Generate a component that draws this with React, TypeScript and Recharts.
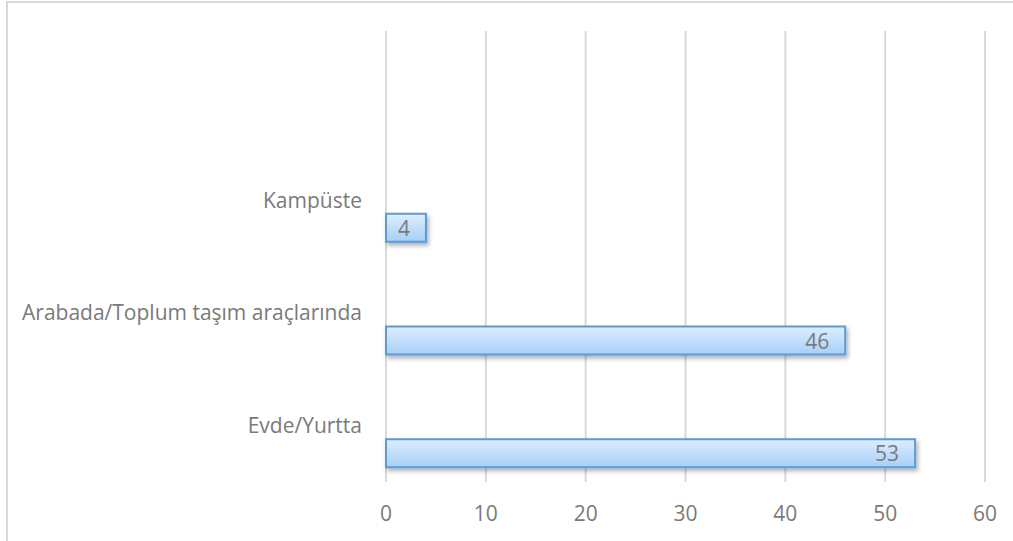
import { Bar, BarChart, CartesianGrid, LabelList, XAxis, YAxis } from "recharts";

// categories top to bottom; the first slot is empty in the source chart
const CATEGORIES = ["", "Kampüste", "Arabada/Toplum taşım araçlarında", "Evde/Yurtta "];
const VALUES: (number | null)[] = [null, 4, 46, 53];
const X_TICKS = [0, 10, 20, 30, 40, 50, 60];

const FONT = "'Open Sans', sans-serif";
const FONT_SIZE = 21;
const TEXT_COLOUR = "#7a7a7a";
const GRID_COLOUR = "#d9d9d9";

const rows = CATEGORIES.map((name, i) => ({ name, blank: null, value: VALUES[i] }));

interface ShapeProps {
  x?: number;
  y?: number;
  width?: number;
  height?: number;
}

function ShadedBar({ x = 0, y = 0, width = 0, height = 0 }: ShapeProps) {
  if (!width || !height) return null;
  return (
    <rect
      x={x}
      y={y}
      width={width}
      height={height}
      fill="url(#barFill)"
      stroke="#5b9bd5"
      strokeWidth={2}
      filter="url(#barShadow)"
    />
  );
}

interface LabelProps {
  x?: number;
  y?: number;
  width?: number;
  height?: number;
  value?: number | null;
}

function InsideLabel({ x = 0, y = 0, width = 0, height = 0, value }: LabelProps) {
  if (value == null) return null;
  return (
    <text
      x={Number(x) + Number(width) - 16}
      y={Number(y) + Number(height) / 2}
      textAnchor="end"
      dominantBaseline="central"
      fontFamily={FONT}
      fontSize={FONT_SIZE}
      fill={TEXT_COLOUR}
    >
      {value}
    </text>
  );
}

export default function App() {
  return (
    <div
      style={{
        position: "fixed",
        left: 0,
        top: 0,
        width: 1013,
        height: 541,
        overflow: "hidden",
        background: "#fff",
      }}
    >
      <svg width={0} height={0} style={{ position: "absolute" }}>
        <defs>
          <linearGradient id="barFill" x1="0" y1="0" x2="0" y2="1">
            <stop offset="0%" stopColor="#ddeeff" />
            <stop offset="100%" stopColor="#a7cff8" />
          </linearGradient>
          <filter id="barShadow" x="-10%" y="-30%" width="130%" height="180%">
            <feDropShadow dx="2" dy="3" stdDeviation="2" floodColor="#000" floodOpacity="0.3" />
          </filter>
        </defs>
      </svg>
      <div style={{ position: "absolute", left: 0, top: 0 }}>
        <BarChart
          width={1013}
          height={541}
          data={rows}
          layout="vertical"
          margin={{ top: 31, right: 28, bottom: 0, left: 0 }}
          barSize={28}
          barGap={28}
        >
          <CartesianGrid horizontal={false} stroke={GRID_COLOUR} strokeWidth={2} />
          <XAxis
            type="number"
            domain={[0, 60]}
            ticks={X_TICKS}
            interval={0}
            height={59}
            axisLine={false}
            tickLine={false}
            tickSize={0}
            tickMargin={24}
            tick={{ fontFamily: FONT, fontSize: FONT_SIZE, fill: TEXT_COLOUR }}
          />
          <YAxis
            type="category"
            dataKey="name"
            width={386}
            axisLine={false}
            tickLine={false}
            tickSize={0}
            tickMargin={24}
            interval={0}
            tick={{ fontFamily: FONT, fontSize: FONT_SIZE, fill: TEXT_COLOUR }}
          />
          <Bar dataKey="blank" isAnimationActive={false} />
          <Bar dataKey="value" isAnimationActive={false} shape={<ShadedBar />}>
            <LabelList dataKey="value" content={<InsideLabel />} />
          </Bar>
        </BarChart>
      </div>
      {/* outer chart frame, cut off at the right and bottom like the source */}
      <svg
        width={1013}
        height={541}
        style={{ position: "absolute", left: 0, top: 0, pointerEvents: "none" }}
      >
        <path d="M7 541 V2 H1013" fill="none" stroke={GRID_COLOUR} strokeWidth={2} />
      </svg>
    </div>
  );
}
